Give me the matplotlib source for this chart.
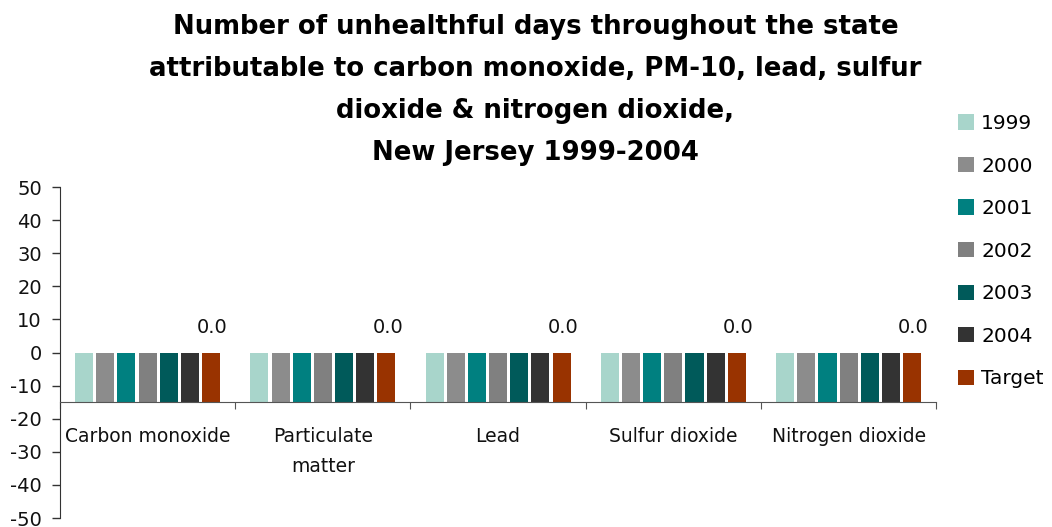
import numpy as np
import matplotlib

matplotlib.use("Agg")
import matplotlib.pyplot as plt

plt.rcParams["font.family"] = ["DejaVu Sans"]
plt.rcParams["axes.unicode_minus"] = False

categories = ["Carbon monoxide", "Particulate\nmatter", "Lead", "Sulfur dioxide", "Nitrogen dioxide"]
series = ["1999", "2000", "2001", "2002", "2003", "2004", "Target"]
values = {
    "1999": [0, 0, 0, 0, 0],
    "2000": [0, 0, 0, 0, 0],
    "2001": [0, 0, 0, 0, 0],
    "2002": [0, 0, 0, 0, 0],
    "2003": [0, 0, 0, 0, 0],
    "2004": [0, 0, 0, 0, 0],
    "Target": [0.0, 0.0, 0.0, 0.0, 0.0],
}
colors = ["#a8d5cb", "#8c8c8c", "#008080", "#808080", "#005a5a", "#333333", "#993300"]

AXIS_CROSS = -15  # horizontal axis crosses here, bars grow from it

fig = plt.figure(figsize=(10.52, 5.27), dpi=100)
ax = fig.add_axes([0.057, 0.017, 0.833, 0.628])

x = np.arange(len(categories))
slot = 0.1206
bar_w = 0.103
for i, (name, col) in enumerate(zip(series, colors)):
    vals = np.array(values[name], dtype=float)
    pos = x + (i - 3) * slot
    ax.bar(pos, vals - AXIS_CROSS, bottom=AXIS_CROSS, width=bar_w,
           color=col, label=name, linewidth=0)
    if name == "Target":
        for px, v in zip(pos, vals):
            ax.annotate(f"{v:.1f}", (px, v), xytext=(1, 11.5), textcoords="offset points",
                        ha="center", va="bottom", fontsize=14, color="#111111")

ax.set_xlim(-0.5, len(categories) - 0.5)
ax.set_ylim(-50, 50)
ax.set_yticks(np.arange(-50, 51, 10))
ax.tick_params(axis="y", labelsize=14, length=6, width=1, color="#333333",
               labelcolor="#111111", pad=7)

# category boundaries get the tick marks, names are placed under the crossing axis
ax.set_xticks(np.arange(-0.5, len(categories)))
ax.set_xticklabels([])
ax.tick_params(axis="x", direction="out", length=5, color="#555555")
for cx, name in zip(x, categories):
    ax.annotate(name, (cx, AXIS_CROSS), xytext=(0, -18), textcoords="offset points",
                ha="center", va="top", fontsize=13.5, color="#111111", linespacing=1.75)

ax.spines["top"].set_visible(False)
ax.spines["right"].set_visible(False)
ax.spines["bottom"].set_position(("data", AXIS_CROSS))
ax.spines["bottom"].set_color("#555555")
ax.spines["left"].set_color("#333333")

fig.text(0.509, 0.973,
         "Number of unhealthful days throughout the state\n"
         "attributable to carbon monoxide, PM-10, lead, sulfur\n"
         "dioxide & nitrogen dioxide,\n"
         "New Jersey 1999-2004",
         ha="center", va="top", fontsize=18.7, fontweight="bold", linespacing=1.79)

leg = fig.legend(loc="upper left", bbox_to_anchor=(0.903, 0.799), frameon=False,
                 fontsize=14.5, handlelength=0.8, handleheight=0.8, handletextpad=0.35,
                 labelspacing=1.17, borderaxespad=0)

fig.savefig("out.png", dpi=100)
